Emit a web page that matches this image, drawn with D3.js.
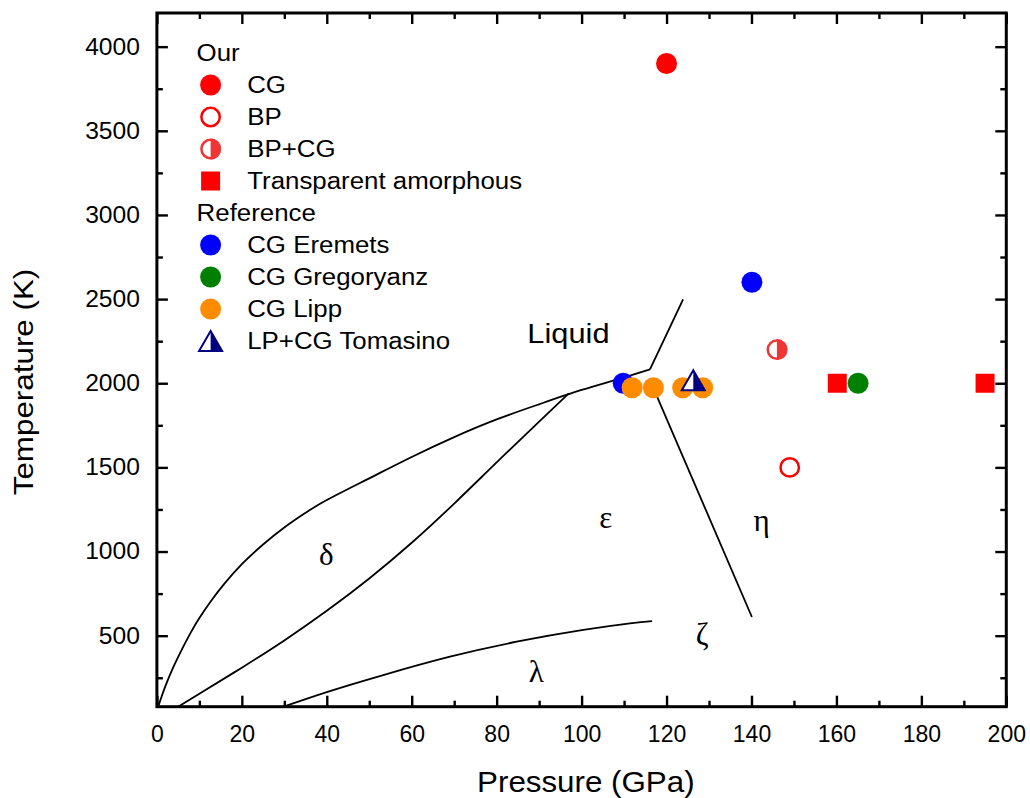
<!DOCTYPE html>
<html>
<head>
<meta charset="utf-8">
<script src="https://cdn.jsdelivr.net/npm/d3@7"></script>
<style>
  body { margin: 0; background: #fff; }
  text { font-family: "Liberation Sans", Arial, sans-serif; }
</style>
</head>
<body>
<div id="plt"></div>
<script>
// data
var ourCG = [[120, 3900]];
var ourBP = [[149, 1500]];
var ourBPCG = [[146, 2200]];
var transAmorph = [[160.2, 2000], [195, 2000]];
var eremets = [[109.8, 2000], [140.1, 2600]];
var gregoryanz = [[165.1, 2000]];
var lipp = [[111.9, 1973], [116.9, 1973], [123.8, 1973], [128.5, 1973]];
var tomasino = [[126.3, 2000]];

// phase boundaries
var meltCurve = [[0.3, 78], [2, 200], [4, 320], [6, 425], [8, 520], [10, 605], [13, 715], [16, 812], [20, 925],
                 [25, 1042], [30, 1143], [35, 1230], [40, 1306], [50, 1435], [60, 1562], [70, 1680], [80, 1785],
                 [90, 1875], [100, 1960], [108, 2020], [116.1, 2083]];
var meltUpper = [[116.1, 2083], [123.9, 2499]];
var deltaEps = [[5, 78], [10, 155], [20, 310], [30, 472], [40, 648], [50, 840], [60, 1052], [70, 1285],
                [80, 1530], [90, 1772], [97, 1940]];
var lambdaLine = [[29.8, 78], [40, 165], [53.3, 266], [69, 375], [84.7, 464], [100.4, 534], [111.4, 573], [116.6, 587]];
var epsEta = [[116.5, 1995], [140.1, 611]];

var xTicks = d3.range(0, 201, 20);
var yTicks = d3.range(500, 4001, 500);

var phaseLabels = [
  {t: "δ", p: 39.9, T: 920},
  {t: "ε", p: 105.7, T: 1138},
  {t: "η", p: 142.4, T: 1122},
  {t: "ζ", p: 128.4, T: 445},
  {t: "λ", p: 89.3, T: 226}
];

var W = 1030, H = 798;
var margin = {top: 13, right: 23.7, bottom: 91.3, left: 156.9};
var width = W - margin.left - margin.right;
var height = H - margin.top - margin.bottom;

var svg = d3.select("#plt").append("svg")
  .attr("width", W).attr("height", H)
  .append("g")
  .attr("transform", "translate(" + margin.left + "," + margin.top + ")");

var x = d3.scaleLinear().domain([0, 200]).range([0, width]);
var y = d3.scaleLinear().domain([78, 4200]).range([height, 0]);

// widen text a little, the source font runs wider than Arial
function stretch(sel, k) {
  sel.each(function() {
    var w = this.getComputedTextLength();
    d3.select(this).attr("textLength", w * k).attr("lengthAdjust", "spacingAndGlyphs");
  });
}

// axes, ticks inward, mirrored on top and right
var xMinor = d3.range(10, 200, 20);
var yMinor = d3.range(250, 4200, 500);

function tickStyle(g) {
  g.select(".domain").remove();
  g.selectAll("line").attr("stroke", "#000").attr("stroke-width", 2.4);
  g.selectAll("text").attr("font-size", 23).attr("fill", "#000");
}

svg.append("g").attr("transform", "translate(0," + height + ")")
  .call(d3.axisBottom(x).tickValues(xTicks).tickSize(-11).tickPadding(19).tickFormat(d3.format("d")))
  .call(tickStyle);
svg.append("g").attr("transform", "translate(0," + height + ")")
  .call(d3.axisBottom(x).tickValues(xMinor).tickSize(-6).tickFormat(""))
  .call(tickStyle);
svg.append("g")
  .call(d3.axisTop(x).tickValues(xTicks).tickSize(-11).tickFormat(""))
  .call(tickStyle);
svg.append("g")
  .call(d3.axisTop(x).tickValues(xMinor).tickSize(-6).tickFormat(""))
  .call(tickStyle);

var yAx = svg.append("g")
  .call(d3.axisLeft(y).tickValues(yTicks).tickSize(-11).tickPadding(17).tickFormat(d3.format("d")))
  .call(tickStyle);
stretch(yAx.selectAll("text"), 1.07);
svg.append("g")
  .call(d3.axisLeft(y).tickValues(yMinor).tickSize(-6).tickFormat(""))
  .call(tickStyle);
svg.append("g").attr("transform", "translate(" + width + ",0)")
  .call(d3.axisRight(y).tickValues(yTicks).tickSize(-11).tickFormat(""))
  .call(tickStyle);
svg.append("g").attr("transform", "translate(" + width + ",0)")
  .call(d3.axisRight(y).tickValues(yMinor).tickSize(-6).tickFormat(""))
  .call(tickStyle);

svg.append("rect")
  .attr("width", width).attr("height", height)
  .attr("fill", "none").attr("stroke", "#000").attr("stroke-width", 3);

// axis titles
svg.append("text")
  .attr("x", x(101)).attr("y", height + 85)
  .attr("text-anchor", "middle").attr("font-size", 29)
  .text("Pressure (GPa)")
  .call(stretch, 1.08);
svg.append("text")
  .attr("transform", "translate(" + (33 - margin.left) + "," + (382 - margin.top) + ")rotate(-90)")
  .attr("text-anchor", "middle").attr("font-size", 28)
  .text("Temperature (K)")
  .call(stretch, 1.12);

// phase lines
var curve = d3.line().curve(d3.curveNatural).x(function(d) { return x(d[0]); }).y(function(d) { return y(d[1]); });
var line = d3.line().x(function(d) { return x(d[0]); }).y(function(d) { return y(d[1]); });

[meltCurve, deltaEps, lambdaLine].forEach(function(c) {
  svg.append("path").attr("d", curve(c)).attr("fill", "none").attr("stroke", "#000").attr("stroke-width", 1.8);
});
[meltUpper, epsEta].forEach(function(c) {
  svg.append("path").attr("d", line(c)).attr("fill", "none").attr("stroke", "#000").attr("stroke-width", 1.8);
});

svg.append("text")
  .attr("x", x(96.9)).attr("y", y(2240))
  .attr("text-anchor", "middle").attr("font-size", 28)
  .text("Liquid")
  .call(stretch, 1.1);

phaseLabels.forEach(function(l) {
  svg.append("text")
    .attr("x", x(l.p)).attr("y", y(l.T))
    .attr("text-anchor", "middle")
    .attr("font-size", 31)
    .style("font-family", "'Liberation Serif', 'Times New Roman', serif")
    .text(l.t);
});

// marker helpers
var R = 10.5;
function circle(g, cx, cy, fill) {
  g.append("circle").attr("cx", cx).attr("cy", cy).attr("r", R).attr("fill", fill);
}
function openCircle(g, cx, cy) {
  g.append("circle").attr("cx", cx).attr("cy", cy).attr("r", R - 1.3)
    .attr("fill", "#fff").attr("stroke", "red").attr("stroke-width", 2.5);
}
function halfCircle(g, cx, cy) {
  g.append("circle").attr("cx", cx).attr("cy", cy).attr("r", R - 1.3)
    .attr("fill", "#fff").attr("stroke", "#f03535").attr("stroke-width", 2.5);
  g.append("path")
    .attr("d", "M" + cx + "," + (cy - R) + "A" + R + "," + R + " 0 0 1 " + cx + "," + (cy + R) + "Z")
    .attr("fill", "#f03535");
}
function square(g, cx, cy) {
  g.append("rect").attr("x", cx - 9.5).attr("y", cy - 9.5).attr("width", 19).attr("height", 19).attr("fill", "red");
}
function triangle(g, cx, cy) {
  var hw = 11.5, top = cy - 13, bot = cy + 7;
  g.append("path").attr("d", "M" + cx + "," + top + "L" + (cx + hw) + "," + bot + "L" + (cx - hw) + "," + bot + "Z")
    .attr("fill", "#fff").attr("stroke", "#000080").attr("stroke-width", 2).attr("stroke-linejoin", "miter");
  g.append("path").attr("d", "M" + cx + "," + top + "L" + (cx + hw) + "," + bot + "L" + cx + "," + bot + "Z")
    .attr("fill", "#000080");
}

var pts = svg.append("g");
ourCG.forEach(function(d) { circle(pts, x(d[0]), y(d[1]), "red"); });
ourBP.forEach(function(d) { openCircle(pts, x(d[0]), y(d[1])); });
ourBPCG.forEach(function(d) { halfCircle(pts, x(d[0]), y(d[1])); });
transAmorph.forEach(function(d) { square(pts, x(d[0]), y(d[1])); });
eremets.forEach(function(d) { circle(pts, x(d[0]), y(d[1]), "blue"); });
gregoryanz.forEach(function(d) { circle(pts, x(d[0]), y(d[1]), "green"); });
lipp.forEach(function(d) { circle(pts, x(d[0]), y(d[1]), "#ff8c00"); });
tomasino.forEach(function(d) { triangle(pts, x(d[0]), y(d[1])); });

// legend
var legend = [
  {t: "Our", m: null},
  {t: "CG", m: function(g, cx, cy) { circle(g, cx, cy, "red"); }},
  {t: "BP", m: openCircle},
  {t: "BP+CG", m: halfCircle},
  {t: "Transparent amorphous", m: square},
  {t: "Reference", m: null},
  {t: "CG Eremets", m: function(g, cx, cy) { circle(g, cx, cy, "blue"); }},
  {t: "CG Gregoryanz", m: function(g, cx, cy) { circle(g, cx, cy, "green"); }},
  {t: "CG Lipp", m: function(g, cx, cy) { circle(g, cx, cy, "#ff8c00"); }},
  {t: "LP+CG Tomasino", m: triangle}
];
var lg = svg.append("g");
legend.forEach(function(l, i) {
  var cy = 40 + i * 32;
  if (l.m) l.m(lg, 53.7, l.m === triangle ? cy + 3 : cy);
  lg.append("text")
    .attr("x", l.m ? 90.3 : 39.7).attr("y", cy + 8.3)
    .attr("font-size", 23.5)
    .text(l.t)
    .call(stretch, 1.1);
});
</script>
</body>
</html>
